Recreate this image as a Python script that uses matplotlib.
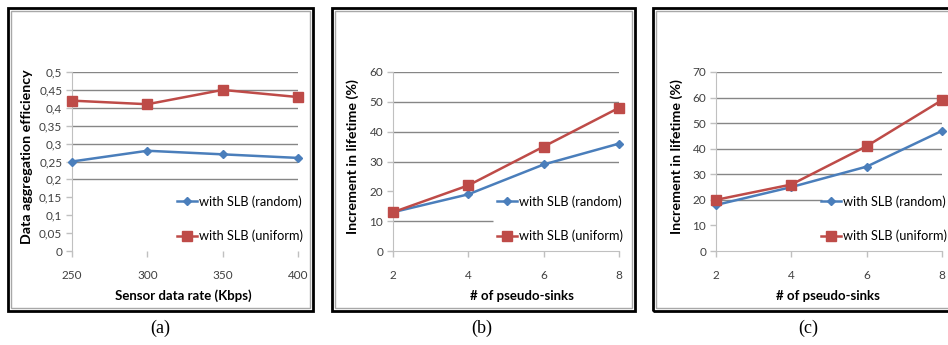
import numpy as np
import matplotlib
matplotlib.use('Agg')
import matplotlib.pyplot as plt
from matplotlib.patches import Rectangle

W, H = 948, 345

# data
rate_kbps = [250, 300, 350, 400]
eff_random = [0.25, 0.28, 0.27, 0.26]
eff_uniform = [0.42, 0.41, 0.45, 0.43]

sinks = [2, 4, 6, 8]
life_b_random = [13, 19, 29, 36]
life_b_uniform = [13, 22, 35, 48]
life_c_random = [18, 25, 33, 47]
life_c_uniform = [20, 26, 41, 59]

labels = ['with SLB (random)', 'with SLB (uniform)']
eff_ticks = [0, 0.05, 0.1, 0.15, 0.2, 0.25, 0.3, 0.35, 0.4, 0.45, 0.5]
eff_ticklabels = ['0', '0,05', '0,1', '0,15', '0,2', '0,25', '0,3', '0,35', '0,4', '0,45', '0,5']

BLUE = '#4a7ebb'
RED = '#be4b48'
GRID = '#868686'
AXIS = '#c0c0c0'

plt.rcParams['font.family'] = ['Lato', 'DejaVu Sans']

fig = plt.figure(figsize=(W / 100, H / 100), dpi=100)


def fx(px):
    return px / W


def fy(py):
    return 1 - py / H


def box(x0, x1):
    fig.patches.append(Rectangle((fx(x0 + 3), fy(308)), fx(x1 - x0 - 6), fy(11) - fy(308),
                                 transform=fig.transFigure, fill=False, ec='#a8a8a8', lw=1))
    fig.patches.append(Rectangle((fx(x0), fy(311)), fx(x1 - x0), fy(8) - fy(311),
                                 transform=fig.transFigure, fill=False, ec='black', lw=2))


def panel(x0, x1, y_top, x, rnd, uni, ylim, yticks, yticklabels, grid_full, grid_part,
          show_bottom, ylabel, ylabel_x, xlabel, xlabel_x, leg_x, tag, tag_x):
    ax = fig.add_axes([fx(x0), fy(251), fx(x1 - x0), fy(y_top) - fy(251)])
    ax.set_xlim(x[0], x[-1])
    ax.set_ylim(*ylim)
    xmin, xmax = ax.get_xlim()
    ax.hlines(grid_full, xmin, xmax, color=GRID, lw=1, zorder=1)
    for lvl, xend in grid_part:
        ax.hlines(lvl, xmin, xend, color=GRID, lw=1, zorder=1)
    l1, = ax.plot(x, rnd, color=BLUE, lw=1.8, marker='D', ms=4.5, clip_on=False, zorder=3)
    l2, = ax.plot(x, uni, color=RED, lw=1.8, marker='s', ms=6.5, clip_on=False, zorder=4)
    ax.set_xticks(x)
    ax.set_yticks(yticks)
    ax.set_yticklabels(yticklabels)
    for s in ['top', 'right']:
        ax.spines[s].set_visible(False)
    ax.spines['left'].set_color(AXIS)
    ax.spines['bottom'].set_color(AXIS)
    ax.spines['bottom'].set_visible(show_bottom)
    ax.tick_params(axis='both', colors=AXIS, length=4, width=1, labelsize=8.5,
                   labelcolor='#404040')
    ax.tick_params(axis='x', pad=10)
    ax.tick_params(axis='y', pad=3)
    ax.set_facecolor('none')
    fig.text(fx(ylabel_x), fy(157), ylabel, rotation=90, ha='center', va='center',
             fontsize=10.3, fontweight='bold')
    fig.text(fx(xlabel_x), fy(296), xlabel, ha='center', va='center',
             fontsize=9.5, fontweight='bold')
    fig.text(fx(tag_x), fy(328), tag, ha='center', va='center', fontsize=13,
             family=['Liberation Serif', 'DejaVu Serif'])
    ax.legend([l1, l2], labels, loc='upper left', bbox_to_anchor=(fx(leg_x), fy(195)),
              bbox_transform=fig.transFigure, frameon=False, fontsize=9.2,
              handlelength=1.55, handletextpad=0.15, labelspacing=1.75, borderpad=0,
              borderaxespad=0)
    return ax


box(8, 313)
box(332, 635)
box(653, 960)

panel(72, 298, 72, rate_kbps, eff_random, eff_uniform, (0, 0.5), eff_ticks, eff_ticklabels,
      [0.2, 0.25, 0.3, 0.35, 0.4, 0.45, 0.5], [], False,
      'Data aggregation efficiency', 27, 'Sensor data rate (Kbps)', 183, 177, '(a)', 160)

panel(393, 619, 72, sinks, life_b_random, life_b_uniform, (0, 60), range(0, 61, 10),
      [str(v) for v in range(0, 61, 10)], [30, 40, 50, 60], [(10, 4.66)], True,
      'Increment in lifetime (%)', 353, '# of pseudo-sinks', 522, 497, '(b)', 482)

panel(716, 942, 72, sinks, life_c_random, life_c_uniform, (0, 70), range(0, 71, 10),
      [str(v) for v in range(0, 71, 10)], [30, 40, 50, 60, 70], [(20, 4.82)], True,
      'Increment in lifetime (%)', 677, '# of pseudo-sinks', 828, 821, '(c)', 808)

fig.savefig('out.png', dpi=100)
